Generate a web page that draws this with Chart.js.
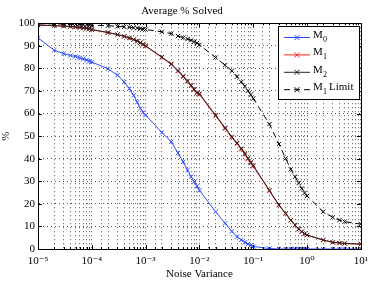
<!DOCTYPE html>
<html>
<head>
<meta charset="utf-8">
<script src="https://cdn.jsdelivr.net/npm/chart.js@4.4.0/dist/chart.umd.min.js"></script>
<style>
  html, body { margin: 0; padding: 0; background: #fff; }
  #wrap { width: 374px; height: 281px; }
</style>
</head>
<body>
<div id="wrap"><canvas id="myChart" width="374" height="281"></canvas></div>
<script>
// noise variance values (x)
const noise = [
  1e-5, 2e-5, 3e-5, 4e-5, 5e-5, 6e-5, 7e-5, 8e-5, 9e-5,
  1e-4, 2e-4, 3e-4, 4e-4, 5e-4, 6e-4, 7e-4, 8e-4, 9e-4,
  1e-3, 2e-3, 3e-3, 4e-3, 5e-3, 6e-3, 7e-3, 8e-3, 9e-3,
  1e-2, 2e-2, 3e-2, 4e-2, 5e-2, 6e-2, 7e-2, 8e-2, 9e-2,
  0.1, 0.2, 0.3, 0.4, 0.5, 0.6, 0.7, 0.8, 0.9,
  1, 2, 3, 4, 5, 10
];

const m0 = [
  93.5, 88, 86.5, 85.7, 85.2, 84.7, 84.2, 83.7, 83.2,
  82.8, 79.8, 77, 74, 71, 68, 65, 62.3, 60.5,
  59.3, 51.6, 47.5, 42.5, 38.6, 35, 32, 29.8, 27.8,
  26, 16.5, 11.4, 7.8, 5.4, 4, 3, 2.2, 1.6,
  1.1, 0.2, 0, 0, 0, 0, 0, 0, 0,
  0, 0, 0, 0, 0, 0
];

const m1 = [
  99.2, 98.9, 98.7, 98.5, 98.3, 98.1, 97.9, 97.7, 97.5,
  97.1, 95.8, 94.9, 94.1, 93.4, 92.7, 92, 91.3, 90.6,
  89.9, 84.8, 81.7, 78.7, 76.3, 74.1, 72.2, 70.5, 69,
  68.4, 58.9, 53.3, 49.3, 46.6, 44.1, 41.9, 39.8, 38,
  36.6, 25.7, 19.3, 15.6, 12.7, 10.5, 8.8, 7.6, 6.7,
  6.1, 3.9, 2.9, 2.6, 2.4, 2.1
];

const m2 = [
  99.2, 98.9, 98.7, 98.5, 98.3, 98.1, 97.9, 97.7, 97.5,
  97.2, 95.9, 95, 94.2, 93.5, 92.8, 92.1, 91.4, 90.7,
  90, 85, 82, 79, 76.6, 74.4, 72.5, 70.8, 69.3,
  68.8, 59.3, 53.7, 49.7, 47, 44.5, 42.3, 40.2, 38.4,
  37, 26, 19.5, 15.8, 12.8, 10.6, 8.9, 7.7, 6.8,
  6.2, 4, 3, 2.7, 2.5, 2.2
];

const m1Limit = [
  99.8, 99.7, 99.6, 99.5, 99.5, 99.4, 99.3, 99.3, 99.2,
  99.1, 98.9, 98.6, 98.4, 98.2, 98, 97.8, 97.6, 97.4,
  97.2, 96.2, 95.4, 94.3, 93.6, 93, 92.4, 91.8, 91.2,
  90.4, 84.8, 81.4, 78.9, 76.3, 74, 72, 70.1, 68.3,
  66.7, 55.3, 46.5, 40.1, 35.3, 32, 29.2, 26.8, 24.8,
  23.5, 16.5, 14, 12.8, 12.1, 11
];

const seriesNames = ["M0", "M1", "M2", "M1 Limit"];
const xTickLabels = ["10⁻⁵", "10⁻⁴", "10⁻³", "10⁻²", "10⁻¹", "10⁰", "10¹"];

const serif = "'Liberation Serif', 'DejaVu Serif', serif";

function pts(ys) {
  return ys.map((y, i) => ({x: noise[i], y: y}));
}

// box round the plot, inward ticks, legend inside the axes
const boxPlugin = {
  id: 'boxPlugin',
  afterDraw(chart) {
    const ctx = chart.ctx, a = chart.chartArea;
    const xs = chart.scales.x, ys = chart.scales.y;
    ctx.save();
    ctx.strokeStyle = '#000';
    ctx.lineWidth = 1;
    // inward ticks
    ctx.beginPath();
    xs.ticks.forEach(t => {
      const px = Math.round(xs.getPixelForValue(t.value)) + 0.5;
      const major = Math.abs(Math.log10(t.value) - Math.round(Math.log10(t.value))) < 1e-6;
      const len = major ? 4 : 2;
      ctx.moveTo(px, a.bottom); ctx.lineTo(px, a.bottom - len);
      ctx.moveTo(px, a.top); ctx.lineTo(px, a.top + len);
    });
    ys.ticks.forEach(t => {
      const py = Math.round(ys.getPixelForValue(t.value)) + 0.5;
      ctx.moveTo(a.left, py); ctx.lineTo(a.left + 4, py);
      ctx.moveTo(a.right, py); ctx.lineTo(a.right - 4, py);
    });
    ctx.stroke();
    ctx.strokeRect(Math.round(a.left) + 0.5, Math.round(a.top) + 0.5,
      Math.round(a.right - a.left), Math.round(a.bottom - a.top));

    // legend
    const lx = 278, ly = 26, lw = 81, lh = 73;
    ctx.fillStyle = '#fff';
    ctx.fillRect(lx, ly, lw, lh);
    ctx.strokeRect(lx + 0.5, ly + 0.5, lw, lh);
    chart.data.datasets.forEach((ds, i) => {
      const cy = ly + 11 + i * 17.4;
      ctx.save();
      ctx.strokeStyle = ds.borderColor;
      ctx.setLineDash(ds.borderDash || []);
      ctx.beginPath();
      ctx.moveTo(lx + 6, cy + 0.5); ctx.lineTo(lx + 32, cy + 0.5);
      ctx.stroke();
      ctx.setLineDash([]);
      ctx.beginPath();
      ctx.moveTo(lx + 16.5, cy - 2); ctx.lineTo(lx + 21.5, cy + 3);
      ctx.moveTo(lx + 21.5, cy - 2); ctx.lineTo(lx + 16.5, cy + 3);
      ctx.stroke();
      ctx.restore();
      const name = seriesNames[i];
      ctx.fillStyle = '#000';
      ctx.textBaseline = 'alphabetic';
      ctx.font = "11px " + serif;
      ctx.fillText('M', lx + 35, cy + 1);
      ctx.font = "8px " + serif;
      ctx.fillText(name.charAt(1), lx + 45, cy + 5);
      if (name.length > 2) {
        ctx.font = "11px " + serif;
        ctx.fillText(name.slice(3), lx + 51, cy + 1);
      }
    });
    ctx.restore();
  }
};

const ctx = document.getElementById('myChart').getContext('2d');

const myChart = new Chart(ctx, {
  type: 'line',
  data: {
    datasets: [
      { label: 'M0', data: pts(m0), borderColor: '#2c4dff', borderWidth: 1, order: 1,
        pointStyle: 'crossRot', pointRadius: 3, pointBorderColor: '#2c4dff', pointBorderWidth: 1 },
      { label: 'M1', data: pts(m1), borderColor: '#ff2020', borderWidth: 1, order: 3,
        pointStyle: 'crossRot', pointRadius: 3, pointBorderColor: '#ff2020', pointBorderWidth: 1 },
      { label: 'M2', data: pts(m2), borderColor: '#222', borderWidth: 1, order: 2,
        pointStyle: 'crossRot', pointRadius: 3, pointBorderColor: '#222', pointBorderWidth: 1 },
      { label: 'M1 Limit', data: pts(m1Limit), borderColor: '#000', borderWidth: 1, borderDash: [6, 4], order: 0,
        pointStyle: 'crossRot', pointRadius: 3, pointBorderColor: '#000', pointBorderWidth: 1 }
    ]
  },
  options: {
    responsive: false,
    animation: false,
    layout: { padding: { top: 0, right: 10, bottom: 0, left: 0 } },
    plugins: {
      legend: { display: false },
      tooltip: { enabled: false },
      title: {
        display: true, text: 'Average % Solved', color: '#000',
        font: { family: serif, size: 11, weight: 'normal' },
        padding: { top: 5, bottom: 5 }
      }
    },
    scales: {
      x: {
        type: 'logarithmic', min: 1e-5, max: 10,
        afterFit(scale) { scale.height = 32; },
        title: { display: true, text: 'Noise Variance', color: '#000',
          font: { family: serif, size: 11 }, padding: { top: 0, bottom: 0 } },
        grid: { color: '#555', drawTicks: false, lineWidth: 1 },
        border: { color: '#000', dash: [1, 3] },
        ticks: {
          autoSkip: false, maxRotation: 0, color: '#000', padding: 6,
          font: { family: serif, size: 11 },
          callback(v) {
            const e = Math.log10(v);
            if (Math.abs(e - Math.round(e)) > 1e-6) return '';
            return xTickLabels[Math.round(e) + 5];
          }
        }
      },
      y: {
        min: 0, max: 100,
        afterFit(scale) { scale.width = 38; },
        title: { display: true, text: '%', color: '#000',
          font: { family: serif, size: 11 }, padding: { top: 0, bottom: 2 } },
        grid: { color: '#555', drawTicks: false, lineWidth: 1 },
        border: { color: '#000', dash: [1, 3] },
        ticks: { stepSize: 10, color: '#000', padding: 3, font: { family: serif, size: 11 } }
      }
    }
  },
  plugins: [boxPlugin]
});
</script>
</body>
</html>
